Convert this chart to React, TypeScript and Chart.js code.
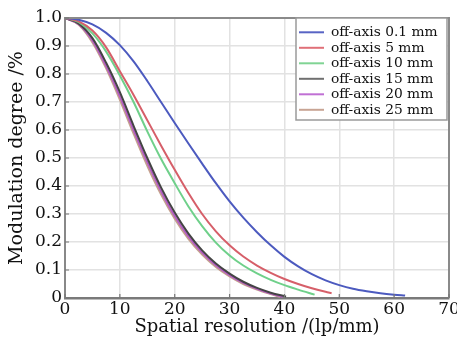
import React, { useEffect, useRef } from "react";
import { Chart, registerables } from "chart.js";

Chart.register(...registerables);

// Spatial frequency sample points (lp/mm) and modulation values for each curve
const freqBlue = [0, 2.5, 5, 7.5, 10, 12.5, 15, 17.5, 20, 22.5, 25, 27.5, 30, 32.5, 35, 37.5, 40, 42.5, 45, 47.5, 50, 52.5, 55, 57.5, 60, 62];
const mtfBlue = [1.0, 0.994, 0.977, 0.947, 0.903, 0.845, 0.775, 0.7, 0.625, 0.552, 0.48, 0.41, 0.345, 0.287, 0.235, 0.188, 0.147, 0.113, 0.085, 0.063, 0.046, 0.033, 0.024, 0.017, 0.012, 0.009];

const freqRed = [0, 2.5, 5, 7.5, 10, 12.5, 15, 17.5, 20, 22.5, 25, 27.5, 30, 32.5, 35, 37.5, 40, 42.5, 45, 47.5, 48.6];
const mtfRed = [1.0, 0.988, 0.955, 0.895, 0.81, 0.725, 0.635, 0.545, 0.458, 0.375, 0.3, 0.238, 0.188, 0.148, 0.116, 0.09, 0.068, 0.05, 0.035, 0.022, 0.017];

const freqGreen = [0, 2.5, 5, 7.5, 10, 12.5, 15, 17.5, 20, 22.5, 25, 27.5, 30, 32.5, 35, 37.5, 40, 42.5, 45.5];
const mtfGreen = [1.0, 0.985, 0.945, 0.88, 0.795, 0.7, 0.595, 0.497, 0.41, 0.327, 0.257, 0.198, 0.152, 0.116, 0.088, 0.065, 0.046, 0.03, 0.012];

const freqBlack = [0, 2.5, 5, 7.5, 10, 12.5, 15, 17.5, 20, 22.5, 25, 27.5, 30, 32.5, 35, 37.5, 40.3];
const mtfBlack = [1.0, 0.98, 0.928, 0.84, 0.735, 0.615, 0.5, 0.395, 0.305, 0.23, 0.17, 0.123, 0.087, 0.058, 0.036, 0.019, 0.005];

const freqPurple = [0, 2.5, 5, 7.5, 10, 12.5, 15, 17.5, 20, 22.5, 25, 27.5, 30, 32.5, 35, 37.5, 39.7];
const mtfPurple = [1.0, 0.978, 0.92, 0.828, 0.72, 0.6, 0.485, 0.382, 0.293, 0.22, 0.162, 0.117, 0.082, 0.054, 0.033, 0.016, 0.004];

const freqBrown = [0, 2.5, 5, 7.5, 10, 12.5, 15, 17.5, 20, 22.5, 25, 27.5, 30, 32.5, 35, 37.5, 39.2];
const mtfBrown = [1.0, 0.976, 0.913, 0.82, 0.708, 0.587, 0.472, 0.37, 0.283, 0.211, 0.155, 0.111, 0.077, 0.05, 0.03, 0.014, 0.004];

const seriesLabels = [
  "off-axis 0.1 mm",
  "off-axis 5 mm",
  "off-axis 10 mm",
  "off-axis 15 mm",
  "off-axis 20 mm",
  "off-axis 25 mm",
];
const seriesColors = ["#4c5abf", "#d65f69", "#6fd08a", "#444444", "#b45cc4", "#c4a08e"];
const legendColors = ["#5864c4", "#e07078", "#80d494", "#707070", "#c070d4", "#c8a494"];

const xTicks = [0, 10, 20, 30, 40, 50, 60, 70];
const yTicks = [0, 0.1, 0.2, 0.3, 0.4, 0.5, 0.6, 0.7, 0.8, 0.9, 1.0];

const FONT = "'DejaVu Serif', 'Liberation Serif', serif";

const zip = (xs: number[], ys: number[]) => xs.map((x, i) => ({ x, y: ys[i] }));

const framePlugin = {
  id: "frameAndLegend",
  afterDatasetsDraw(chart: any) {
    const { ctx, chartArea } = chart;
    const { left, right, top, bottom } = chartArea;
    const xs = chart.scales.x;
    const ys = chart.scales.y;
    ctx.save();
    // top and right frame
    ctx.strokeStyle = "#8a8a8a";
    ctx.lineWidth = 2;
    ctx.beginPath();
    ctx.moveTo(left, top);
    ctx.lineTo(right, top);
    ctx.lineTo(right, bottom);
    ctx.stroke();
    // inward tick marks
    ctx.strokeStyle = "#777";
    ctx.lineWidth = 1.2;
    ctx.beginPath();
    xTicks.forEach((t) => {
      const px = xs.getPixelForValue(t);
      ctx.moveTo(px, bottom);
      ctx.lineTo(px, bottom - 4);
    });
    yTicks.forEach((t) => {
      const py = ys.getPixelForValue(t);
      ctx.moveTo(left, py);
      ctx.lineTo(left + 4, py);
    });
    ctx.stroke();

    // legend box inside the plot area, top-right
    const boxW = 151;
    const boxH = 102;
    const bx = right - 2 - boxW;
    const by = top;
    ctx.fillStyle = "#ffffff";
    ctx.fillRect(bx, by, boxW, boxH);
    ctx.strokeStyle = "#9a9a9a";
    ctx.lineWidth = 1.5;
    ctx.strokeRect(bx, by, boxW, boxH);
    ctx.font = `13.8px ${FONT}`;
    ctx.textBaseline = "middle";
    ctx.textAlign = "left";
    chart.data.datasets.forEach((ds: any, i: number) => {
      const ly = by + 14.3 + i * 15.5;
      ctx.strokeStyle = legendColors[i];
      ctx.lineWidth = 2;
      ctx.beginPath();
      ctx.moveTo(bx + 3, ly);
      ctx.lineTo(bx + 28, ly);
      ctx.stroke();
      ctx.fillStyle = "#111";
      ctx.fillText(ds.label, bx + 35, ly + 0.5);
    });
    ctx.restore();
  },
};

export default function App() {
  const canvasRef = useRef<HTMLCanvasElement | null>(null);

  useEffect(() => {
    if (!canvasRef.current) return;
    const datas = [
      zip(freqBlue, mtfBlue),
      zip(freqRed, mtfRed),
      zip(freqGreen, mtfGreen),
      zip(freqBlack, mtfBlack),
      zip(freqPurple, mtfPurple),
      zip(freqBrown, mtfBrown),
    ];
    const chart = new Chart(canvasRef.current, {
      type: "line",
      data: {
        datasets: datas.map((d, i) => ({
          label: seriesLabels[i],
          data: d,
          borderColor: seriesColors[i],
          backgroundColor: seriesColors[i],
          borderWidth: 2,
          pointRadius: 0,
          fill: false,
          cubicInterpolationMode: "monotone",
        })),
      },
      options: {
        animation: false,
        responsive: false,
        maintainAspectRatio: false,
        layout: { padding: { top: 18, right: 8, left: 0, bottom: 0 } },
        plugins: {
          legend: { display: false },
          tooltip: { enabled: false },
        },
        scales: {
          x: {
            type: "linear",
            min: 0,
            max: 70,
            afterBuildTicks: (scale: any) => {
              scale.ticks = xTicks.map((v) => ({ value: v }));
            },
            afterFit: (scale: any) => {
              scale.height = 44;
              scale.paddingLeft = 0;
              scale.paddingRight = 0;
            },
            ticks: {
              color: "#111",
              font: { family: FONT, size: 17 },
              padding: 1,
              maxRotation: 0,
              autoSkip: false,
              callback: (v: any) => String(v),
            },
            grid: { color: "#e2e2e2", lineWidth: 1.5, drawTicks: false },
            border: { color: "#7a7a7a", width: 2.5 },
            title: {
              display: true,
              text: "Spatial resolution /(lp/mm)",
              color: "#111",
              font: { family: FONT, size: 18 },
              padding: { top: 0, bottom: 4 },
            },
          },
          y: {
            type: "linear",
            min: 0,
            max: 1,
            afterBuildTicks: (scale: any) => {
              scale.ticks = yTicks.map((v) => ({ value: v }));
            },
            afterFit: (scale: any) => {
              scale.width = 65;
              scale.paddingTop = 0;
              scale.paddingBottom = 0;
            },
            ticks: {
              color: "#111",
              font: { family: FONT, size: 17 },
              padding: 3,
              autoSkip: false,
              callback: (v: any) => (Number(v) === 0 ? "0" : Number(v).toFixed(1)),
            },
            grid: { color: "#e2e2e2", lineWidth: 1.5, drawTicks: false },
            border: { color: "#888", width: 2 },
            title: {
              display: true,
              text: "Modulation degree /%",
              color: "#111",
              font: { family: FONT, size: 19 },
              padding: { top: 6, bottom: 0 },
            },
          },
        },
      },
      plugins: [framePlugin],
    } as any);
    return () => chart.destroy();
  }, []);

  return (
    <div style={{ position: "absolute", left: 0, top: 0, width: 457, height: 342, background: "#fff" }}>
      <canvas ref={canvasRef} width={457} height={342} style={{ display: "block" }} />
    </div>
  );
}
